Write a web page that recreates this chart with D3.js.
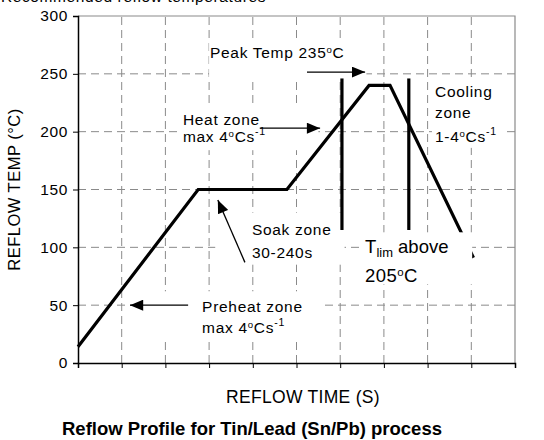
<!DOCTYPE html>
<html>
<head>
<meta charset="utf-8">
<script src="https://cdn.jsdelivr.net/npm/d3@7"></script>
<style>
  html, body { margin: 0; padding: 0; background: #fff; }
  svg { display: block; font-family: "Liberation Sans", Arial, sans-serif; }
</style>
</head>
<body>
<svg id="chart" width="544" height="440"></svg>
<script>
// Reflow profile: time (grid units) vs temperature (°C)
const profileTime = [0, 2.75, 4.78, 6.66, 7.14, 9.05];
const profileTemp = [14, 150, 150, 240, 240, 91];

// T_lim markers (vertical bars) and their temperature span
const tlimTime = [6.04, 7.57];
const tlimSpan = [115, 246];

// Axis ticks
const yTicks = [0, 50, 100, 150, 200, 250, 300];
const xTicks = [0, 1, 2, 3, 4, 5, 6, 7, 8, 9, 10];

const svg = d3.select("#chart");
const W = 544, H = 440;
const m = { left: 78, right: 29, top: 16, bottom: 77 };

const x = d3.scaleLinear().domain([0, 10]).range([m.left, W - m.right]);
const y = d3.scaleLinear().domain([0, 300]).range([H - m.bottom, m.top]);

// heading above the plot, running off the top edge
svg.append("text")
  .attr("x", 1).attr("y", 2)
  .attr("font-size", 15.5).attr("letter-spacing", 0.6)
  .text("Recommended reflow temperatures");

// dashed grid
const grid = svg.append("g");
grid.selectAll("line.h").data(yTicks.filter(d => d > 0 && d < 300)).join("line")
  .attr("x1", x(0)).attr("x2", x(10))
  .attr("y1", d => y(d)).attr("y2", d => y(d))
  .attr("stroke", "#8a8a8a").attr("stroke-width", 1)
  .attr("stroke-dasharray", "8,5");
grid.selectAll("line.v").data(xTicks.filter(d => d > 0 && d < 10)).join("line")
  .attr("y1", y(0)).attr("y2", y(300))
  .attr("x1", d => x(d)).attr("x2", d => x(d))
  .attr("stroke", "#8a8a8a").attr("stroke-width", 1)
  .attr("stroke-dasharray", "8,5");

// frame: top and right edges
svg.append("path")
  .attr("d", `M${x(0)},${y(300)}H${x(10)}V${y(0)}`)
  .attr("fill", "none").attr("stroke", "#8a8a8a").attr("stroke-width", 1.2);

// white label boxes
const boxes = [
  { x0: 3.00, x1: 6.60, t0: 247, t1: 278 },   // peak temp
  { x0: 2.33, x1: 5.50, t0: 184, t1: 221 },   // heat zone
  { x0: 3.14, x1: 6.10, t0: 85,  t1: 130 },   // soak zone
  { x0: 1.30, x1: 5.55, t0: 20,  t1: 62 },    // preheat zone
  { x0: 8.10, x1: 9.78, t0: 186, t1: 245 }    // cooling zone
];
svg.append("g").selectAll("rect").data(boxes).join("rect")
  .attr("x", d => x(d.x0)).attr("width", d => x(d.x1) - x(d.x0))
  .attr("y", d => y(d.t1)).attr("height", d => y(d.t0) - y(d.t1))
  .attr("fill", "#fff");

// axes
const yAxis = svg.append("g")
  .attr("transform", `translate(${x(0)},0)`)
  .call(d3.axisLeft(y).tickValues(yTicks).tickSize(5).tickPadding(5));
yAxis.select(".domain").attr("stroke", "#000").attr("stroke-width", 1.5);
yAxis.selectAll(".tick line").attr("stroke", "#000");
yAxis.selectAll(".tick text").attr("font-size", 15.5).attr("fill", "#000")
  .attr("letter-spacing", 0.6)
  .attr("font-family", "Liberation Sans, Arial, sans-serif");

const xAxis = svg.append("g")
  .attr("transform", `translate(0,${y(0)})`)
  .call(d3.axisBottom(x).tickValues(xTicks).tickSize(5).tickFormat(""));
xAxis.select(".domain").attr("stroke", "#000").attr("stroke-width", 1.5);
xAxis.selectAll(".tick line").attr("stroke", "#000");

// profile curve
const line = d3.line().x((d, i) => x(profileTime[i])).y((d, i) => y(profileTemp[i]));
svg.append("path")
  .datum(profileTemp)
  .attr("d", line)
  .attr("fill", "none").attr("stroke", "#000").attr("stroke-width", 3.2)
  .attr("stroke-linejoin", "miter");

// T_lim bars
svg.append("g").selectAll("line").data(tlimTime).join("line")
  .attr("x1", d => x(d)).attr("x2", d => x(d))
  .attr("y1", y(tlimSpan[0])).attr("y2", y(tlimSpan[1]))
  .attr("stroke", "#000").attr("stroke-width", 3.2);

// T_lim label box sits over the tail of the curve
svg.append("rect")
  .attr("x", x(6.52)).attr("width", x(9.02) - x(6.52))
  .attr("y", y(113)).attr("height", y(68) - y(113))
  .attr("fill", "#fff");

// arrow marker
svg.append("defs").append("marker")
  .attr("id", "head").attr("viewBox", "0 0 12 10")
  .attr("refX", 12).attr("refY", 5)
  .attr("markerUnits", "userSpaceOnUse")
  .attr("markerWidth", 14).attr("markerHeight", 11)
  .attr("orient", "auto")
  .append("path").attr("d", "M0,0L12,5L0,10Z").attr("fill", "#000");

const arrows = [
  { t0: 5.24, v0: 251.5, t1: 6.57, v1: 251.5 },  // peak temp
  { t0: 4.16, v0: 203,   t1: 5.54, v1: 203 },    // heat zone
  { t0: 3.82, v0: 87,    t1: 3.20, v1: 141 },    // soak zone
  { t0: 2.52, v0: 50,    t1: 1.19, v1: 50 }      // preheat zone
];
svg.append("g").selectAll("line").data(arrows).join("line")
  .attr("x1", d => x(d.t0)).attr("y1", d => y(d.v0))
  .attr("x2", d => x(d.t1)).attr("y2", d => y(d.v1))
  .attr("stroke", "#000").attr("stroke-width", 1.3)
  .attr("marker-end", "url(#head)");

// annotation text helper: parts are [text, kind] with kind "", "deg", "sup" or "sub"
function label(px, py, parts, size, spacing) {
  const t = svg.append("text").attr("x", px).attr("y", py)
    .attr("font-size", size).attr("fill", "#000")
    .attr("letter-spacing", spacing);
  parts.forEach(([s, kind]) => {
    const ts = t.append("tspan").text(s);
    if (kind === "deg") ts.attr("font-size", size * 0.62).attr("baseline-shift", "55%");
    if (kind === "sup") ts.attr("font-size", size * 0.68).attr("baseline-shift", "60%");
    if (kind === "sub") ts.attr("font-size", size * 0.7).attr("baseline-shift", "-30%");
  });
  return t;
}

const fs = 15.5, ls = 0.7;
label(x(3.02), y(263.6), [["Peak Temp 235", ""], ["o", "deg"], ["C", ""]], fs, ls);
label(x(2.40), y(205.7), [["Heat zone", ""]], fs, ls);
label(x(2.40), y(191),   [["max 4", ""], ["o", "deg"], ["Cs", ""], ["-1", "sup"]], fs, ls);
label(x(3.98), y(110.6), [["Soak zone", ""]], fs, ls);
label(x(3.98), y(90.7),  [["30-240s", ""]], fs, ls);
label(x(2.84), y(44),    [["Preheat zone", ""]], fs, ls);
label(x(2.84), y(26),    [["max 4", ""], ["o", "deg"], ["Cs", ""], ["-1", "sup"]], fs, ls);
label(x(8.17), y(230),   [["Cooling", ""]], fs, ls);
label(x(8.17), y(212),   [["zone", ""]], fs, ls);
label(x(8.17), y(191),   [["1-4", ""], ["o", "deg"], ["Cs", ""], ["-1", "sup"]], fs, ls);
label(x(6.57), y(95),    [["T", ""], ["lim", "sub"], [" above", ""]], 18.5, 0);
label(x(6.57), y(70),    [["205", ""], ["o", "deg"], ["C", ""]], 18.5, 0.4);

// axis titles
svg.append("text")
  .attr("transform", `translate(20,${y(150)}) rotate(-90)`)
  .attr("text-anchor", "middle")
  .attr("font-size", 16.5).attr("letter-spacing", 0.5)
  .text("REFLOW TEMP (°C)");

svg.append("text")
  .attr("x", 303).attr("y", 403)
  .attr("text-anchor", "middle")
  .attr("font-size", 17.5).attr("letter-spacing", 0.3)
  .text("REFLOW TIME (S)");

svg.append("text")
  .attr("x", 252).attr("y", 435)
  .attr("text-anchor", "middle")
  .attr("font-size", 18.5).attr("font-weight", "bold")
  .text("Reflow Profile for Tin/Lead (Sn/Pb) process");
</script>
</body>
</html>
